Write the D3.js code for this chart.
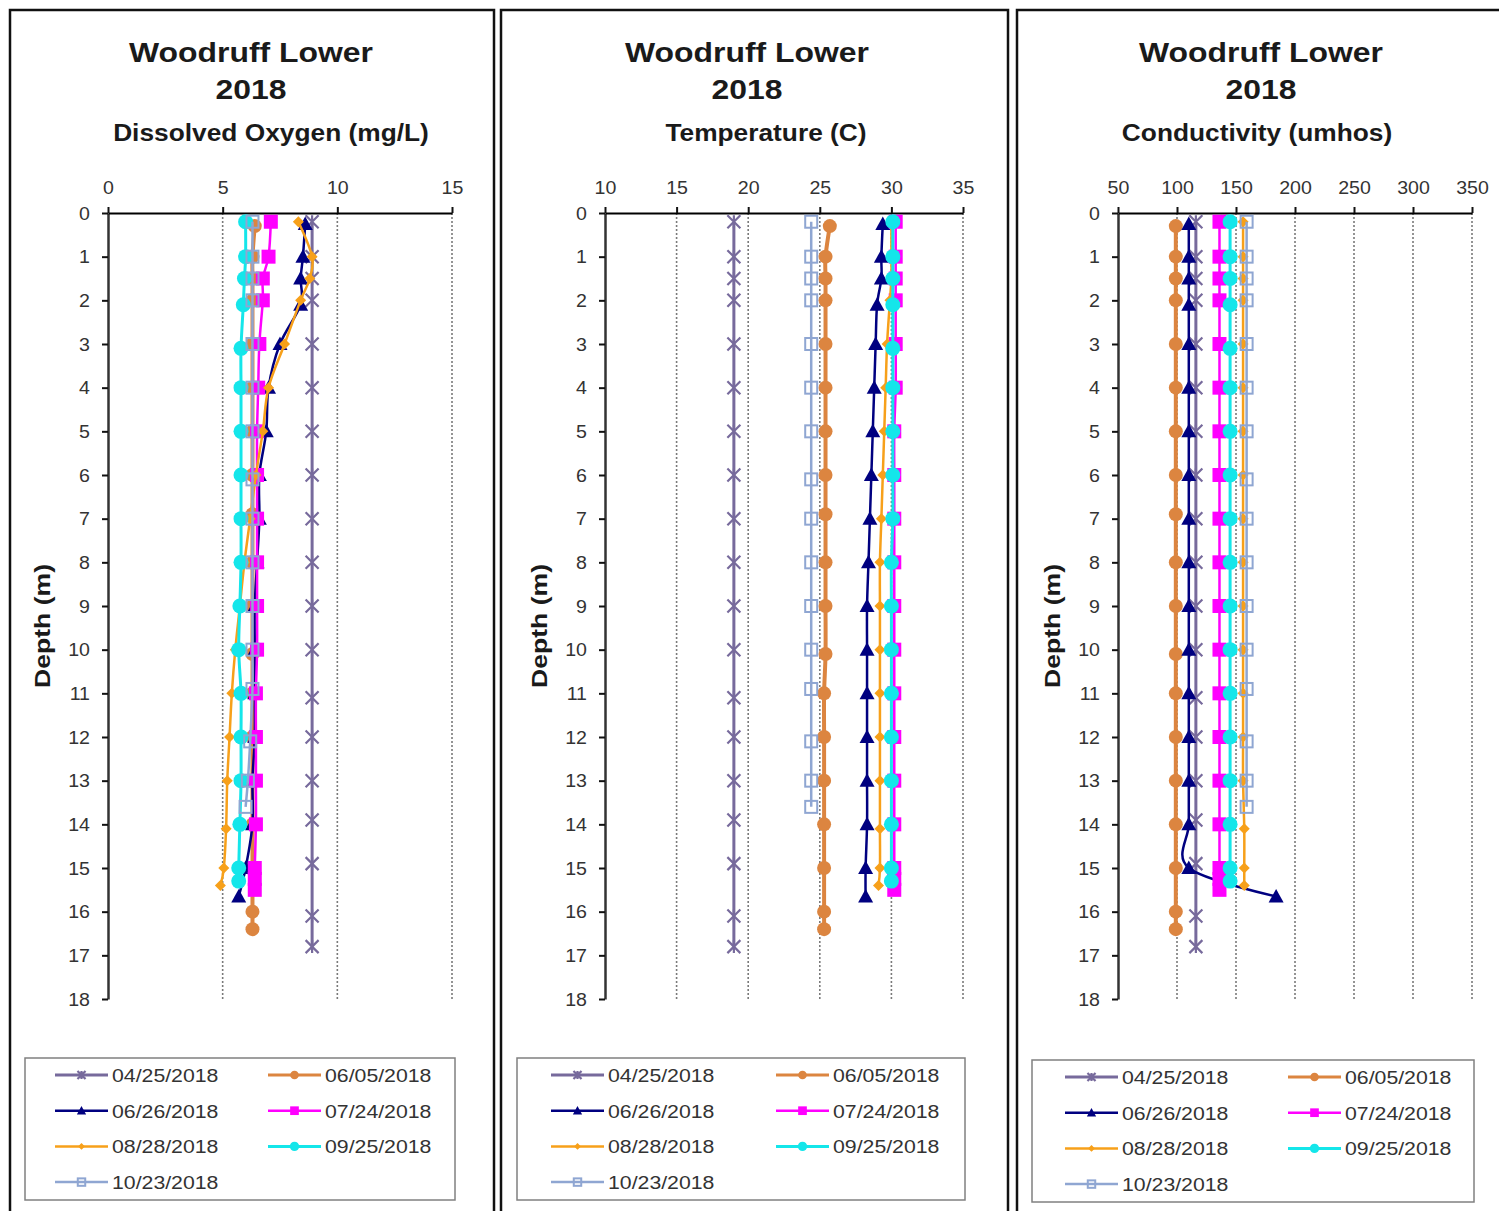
<!DOCTYPE html>
<html>
<head>
<meta charset="utf-8">
<script src="https://cdn.jsdelivr.net/npm/d3@7"></script>
<style>
  body { margin: 0; background: #fff; }
  svg { display: block; }
  text { font-family: "Liberation Sans", Arial, sans-serif; }
</style>
</head>
<body>
<svg id="chart" width="1499" height="1211"></svg>
<script>
// ---- Sampling dates (legend entries) ----
const sampleDates = ["04/25/2018", "06/05/2018", "06/26/2018", "07/24/2018", "08/28/2018", "09/25/2018", "10/23/2018"];

// ---- Tick labels ----
const doTicks = [0, 5, 10, 15];
const tempTicks = [10, 15, 20, 25, 30, 35];
const condTicks = [50, 100, 150, 200, 250, 300, 350];
const depthTicks = [0, 1, 2, 3, 4, 5, 6, 7, 8, 9, 10, 11, 12, 13, 14, 15, 16, 17, 18];

// ---- Profile depths (m) for each sampling date ----
const depth0425 = [0.2, 1, 1.5, 2, 3, 4, 5, 6, 7, 8, 9, 10, 11.1, 12, 13, 13.9, 14.9, 16.1, 16.8];
const depth0605 = [0.3, 1, 1.5, 2, 3, 4, 5, 6, 6.9, 8, 9, 10.1, 11, 12, 13, 14, 15, 16, 16.4];
const depth0626 = [0.25, 1, 1.5, 2.1, 3, 4, 5, 6, 7, 8, 9, 10, 11, 12, 13, 14, 15, 15.65];
const depth0724 = [0.2, 1, 1.5, 2, 3, 4, 5, 6, 7, 8, 9, 10, 11, 12, 13, 14, 15, 15.25, 15.5];
const depth0828 = [0.2, 1, 1.5, 2, 3, 4, 5, 6, 7, 8, 9, 10, 11, 12, 13, 14.1, 15, 15.4];
const depth0925 = [0.2, 1, 1.5, 2.1, 3.1, 4, 5, 6, 7, 8, 9, 10, 11, 12, 13, 14, 15, 15.3];
const depth1023 = [0.2, 1, 1.5, 2, 3, 4, 5, 6.1, 7, 8, 9, 10, 10.9, 12.1, 13, 13.6];

// ---- Dissolved oxygen (mg/L) ----
const do0425 = [8.9, 8.9, 8.9, 8.9, 8.9, 8.9, 8.9, 8.9, 8.9, 8.9, 8.9, 8.9, 8.9, 8.9, 8.9, 8.9, 8.9, 8.9, 8.9];
const do0605 = [6.4, 6.3, 6.3, 6.3, 6.3, 6.3, 6.3, 6.3, 6.3, 6.3, 6.3, 6.3, 6.3, 6.3, 6.3, 6.3, 6.3, 6.3, 6.3];
const do0626 = [8.6, 8.5, 8.4, 8.4, 7.5, 7.0, 6.9, 6.6, 6.6, 6.5, 6.4, 6.4, 6.4, 6.4, 6.3, 6.3, 6.0, 5.7];
const do0724 = [7.1, 7.0, 6.75, 6.75, 6.6, 6.55, 6.5, 6.5, 6.5, 6.5, 6.5, 6.5, 6.45, 6.45, 6.45, 6.45, 6.4, 6.4, 6.4];
const do0828 = [8.3, 8.9, 8.8, 8.4, 7.7, 7.0, 6.75, 6.45, 6.2, 5.95, 5.75, 5.55, 5.4, 5.3, 5.2, 5.15, 5.05, 4.9];
const do0925 = [6.0, 6.0, 5.95, 5.9, 5.8, 5.8, 5.8, 5.8, 5.8, 5.8, 5.75, 5.7, 5.8, 5.8, 5.8, 5.75, 5.7, 5.7];
const do1023 = [6.3, 6.3, 6.3, 6.3, 6.3, 6.3, 6.3, 6.3, 6.3, 6.3, 6.3, 6.3, 6.3, 6.2, 6.1, 6.0];

// ---- Temperature (C) ----
const t0425 = [19.0, 19.0, 19.0, 19.0, 19.0, 19.0, 19.0, 19.0, 19.0, 19.0, 19.0, 19.0, 19.0, 19.0, 19.0, 19.0, 19.0, 19.0, 19.0];
const t0605 = [25.7, 25.4, 25.4, 25.4, 25.4, 25.4, 25.4, 25.4, 25.4, 25.4, 25.4, 25.4, 25.3, 25.3, 25.3, 25.3, 25.3, 25.3, 25.3];
const t0626 = [29.4, 29.3, 29.3, 29.0, 28.9, 28.8, 28.7, 28.6, 28.5, 28.4, 28.3, 28.3, 28.3, 28.3, 28.3, 28.3, 28.2, 28.2];
const t0724 = [30.3, 30.3, 30.3, 30.3, 30.3, 30.3, 30.2, 30.2, 30.2, 30.2, 30.2, 30.2, 30.2, 30.2, 30.2, 30.2, 30.2, 30.2, 30.2];
const t0828 = [30.0, 30.0, 30.0, 29.9, 29.7, 29.6, 29.5, 29.4, 29.3, 29.2, 29.2, 29.2, 29.2, 29.2, 29.2, 29.2, 29.2, 29.1];
const t0925 = [30.1, 30.1, 30.1, 30.1, 30.1, 30.1, 30.1, 30.1, 30.1, 30.0, 30.0, 30.0, 30.0, 30.0, 30.0, 30.0, 30.0, 30.0];
const t1023 = [24.4, 24.4, 24.4, 24.4, 24.4, 24.4, 24.4, 24.4, 24.4, 24.4, 24.4, 24.4, 24.4, 24.4, 24.4, 24.4];

// ---- Conductivity (umhos) ----
const c0425 = [116, 116, 116, 116, 116, 116, 116, 116, 116, 116, 116, 116, 116, 116, 116, 116, 116, 116, 116];
const c0605 = [99, 99, 99, 99, 99, 99, 99, 99, 99, 99, 99, 99, 99, 99, 99, 99, 99, 99, 99];
const c0626 = [110, 110, 110, 110, 110, 110, 110, 110, 110, 110, 110, 110, 110, 110, 110, 110, 110, 184];
const c0724 = [136, 136, 136, 136, 136, 136, 136, 136, 136, 136, 136, 136, 136, 136, 136, 136, 136, 136, 136];
const c0828 = [156, 156, 156, 156, 156, 156, 156, 156, 156, 156, 156, 156, 156, 156, 156, 157, 157, 157];
const c0925 = [145, 145, 145, 145, 145, 145, 145, 145, 145, 145, 145, 145, 145, 145, 145, 145, 145, 145];
const c1023 = [159, 159, 159, 159, 159, 159, 159, 159, 159, 159, 159, 159, 159, 159, 159, 159];

const depthsBySeries = [depth0425, depth0605, depth0626, depth0724, depth0828, depth0925, depth1023];

// ---- Line / marker styles per sampling date ----
const styles = [
  { color: "#776a9c", lw: 3,   marker: "star",       size: 6.5 },
  { color: "#dc8540", lw: 4,   marker: "circle",     size: 7 },
  { color: "#000080", lw: 2.5, marker: "triangle",   size: 7.5 },
  { color: "#ff00ff", lw: 2.5, marker: "square",     size: 7 },
  { color: "#f7a01a", lw: 2.5, marker: "diamond",    size: 5.5 },
  { color: "#14e6ea", lw: 3,   marker: "circle",     size: 7.5 },
  { color: "#8fa6d2", lw: 2.5, marker: "opensquare", size: 6 }
];

// ---- Panel layout ----
const panels = [
  { left: 10, right: 494, x0: 108, x1: 452, domain: [0, 15], ticks: doTicks,
    subtitle: "Dissolved Oxygen (mg/L)", titleX: 251, subX: 271,
    values: [do0425, do0605, do0626, do0724, do0828, do0925, do1023],
    legend: { x: 25, y: 1058, w: 430, h: 142, c1: 55, c2: 268 } },
  { left: 501, right: 1008, x0: 605, x1: 963, domain: [10, 35], ticks: tempTicks,
    subtitle: "Temperature (C)", titleX: 747, subX: 766,
    values: [t0425, t0605, t0626, t0724, t0828, t0925, t1023],
    legend: { x: 517, y: 1058, w: 448, h: 142, c1: 551, c2: 776 } },
  { left: 1017, right: 1530, x0: 1118, x1: 1472, domain: [50, 350], ticks: condTicks,
    subtitle: "Conductivity (umhos)", titleX: 1261, subX: 1257,
    values: [c0425, c0605, c0626, c0724, c0828, c0925, c1023],
    legend: { x: 1032, y: 1060, w: 442, h: 142, c1: 1065, c2: 1288 } }
];

const Y0 = 213, Y1 = 999;
const SX = 1.12; // horizontal text stretch
const svg = d3.select("#chart");

function label(g, x, y, str, size, weight, anchor, fill) {
  return g.append("text")
    .attr("transform", `translate(${x},${y}) scale(${SX},1)`)
    .attr("text-anchor", anchor)
    .style("font-size", size + "px")
    .style("font-weight", weight)
    .attr("fill", fill || "#1a1a1a")
    .text(str);
}

function drawMarker(g, type, s, color) {
  if (type === "circle") {
    g.append("circle").attr("r", s).attr("fill", color);
  } else if (type === "square") {
    g.append("rect").attr("x", -s).attr("y", -s).attr("width", 2 * s).attr("height", 2 * s).attr("fill", color);
  } else if (type === "opensquare") {
    g.append("rect").attr("x", -s).attr("y", -s).attr("width", 2 * s).attr("height", 2 * s)
      .attr("fill", "none").attr("stroke", color).attr("stroke-width", 2);
  } else if (type === "triangle") {
    g.append("path").attr("d", `M0,${-s} L${s},${s * 0.8} L${-s},${s * 0.8} Z`).attr("fill", color);
  } else if (type === "diamond") {
    g.append("path").attr("d", `M0,${-s} L${s},0 L0,${s} L${-s},0 Z`).attr("fill", color);
  } else if (type === "star") {
    g.append("path").attr("d", `M${-s},${-s} L${s},${s} M${-s},${s} L${s},${-s} M0,${-s} L0,${s}`)
      .attr("stroke", color).attr("stroke-width", 2.2).attr("fill", "none");
  }
}

const y = d3.scaleLinear().domain([0, 18]).range([Y0, Y1]);

panels.forEach(p => {
  const g = svg.append("g");

  // panel frame
  g.append("rect").attr("x", p.left).attr("y", 10)
    .attr("width", p.right - p.left).attr("height", 1230)
    .attr("fill", "#fff").attr("stroke", "#111").attr("stroke-width", 2.5);

  // titles
  label(g, p.titleX, 62, "Woodruff Lower", 28.5, "bold", "middle");
  label(g, p.titleX, 99, "2018", 28.5, "bold", "middle");
  label(g, p.subX, 141, p.subtitle, 23.5, "bold", "middle");

  const x = d3.scaleLinear().domain(p.domain).range([p.x0, p.x1]);

  // dotted gridlines
  g.append("g").selectAll("line")
    .data(p.ticks.slice(1))
    .join("line")
    .attr("x1", d => x(d)).attr("x2", d => x(d))
    .attr("y1", Y0).attr("y2", Y1)
    .attr("stroke", "#7a7a7a").attr("stroke-width", 1.6)
    .attr("stroke-dasharray", "2,2");

  // depth axis
  const ay = g.append("g").attr("transform", `translate(${p.x0},0)`)
    .call(d3.axisLeft(y).tickValues(depthTicks).tickFormat(d3.format("d")).tickSize(6).tickSizeOuter(0).tickPadding(12));
  ay.select(".domain").attr("stroke", "#333").attr("stroke-width", 2.5);
  ay.selectAll(".tick line").attr("stroke", "#111").attr("stroke-width", 2);
  ay.selectAll(".tick text")
    .attr("x", -18 / SX).attr("dy", "0.36em")
    .attr("transform", `scale(${SX},1)`)
    .style("font-size", "17.5px").attr("fill", "#333");

  // value axis across the top
  const ax = g.append("g").attr("transform", `translate(0,${Y0})`)
    .call(d3.axisTop(x).tickValues(p.ticks).tickSize(6).tickSizeOuter(0).tickPadding(13));
  ax.select(".domain").attr("stroke", "#000").attr("stroke-width", 2.2);
  ax.selectAll(".tick line").attr("stroke", "#111").attr("stroke-width", 2);
  ax.selectAll(".tick text")
    .attr("transform", `scale(${SX},1)`)
    .style("font-size", "17.5px").attr("fill", "#333");

  // "Depth (m)"
  g.append("text")
    .attr("transform", `translate(${p.x0 - 58},626) rotate(-90)`)
    .attr("text-anchor", "middle")
    .attr("textLength", 124).attr("lengthAdjust", "spacingAndGlyphs")
    .style("font-size", "22px").style("font-weight", "bold")
    .attr("fill", "#1a1a1a")
    .text("Depth (m)");

  // series: line then markers, in date order
  const line = d3.line().curve(d3.curveCatmullRom.alpha(0));
  sampleDates.forEach((date, i) => {
    const st = styles[i];
    const ds = depthsBySeries[i];
    const pts = p.values[i].map((v, k) => [x(v), y(ds[k])]);
    const sg = g.append("g");
    sg.append("path").attr("d", line(pts))
      .attr("fill", "none").attr("stroke", st.color).attr("stroke-width", st.lw)
      .attr("stroke-linejoin", "round");
    pts.forEach(pt => {
      const m = sg.append("g").attr("transform", `translate(${pt[0]},${pt[1]})`);
      drawMarker(m, st.marker, st.size, st.color);
    });
  });

  // legend
  const L = p.legend;
  const lg = g.append("g");
  lg.append("rect").attr("x", L.x).attr("y", L.y).attr("width", L.w).attr("height", L.h)
    .attr("fill", "#fff").attr("stroke", "#808080").attr("stroke-width", 1.5);
  sampleDates.forEach((date, i) => {
    const st = styles[i];
    const row = Math.floor(i / 2), col = i % 2;
    const lx = col === 0 ? L.c1 : L.c2;
    const ly = L.y + 17 + row * 35.7;
    lg.append("line").attr("x1", lx).attr("x2", lx + 53).attr("y1", ly).attr("y2", ly)
      .attr("stroke", st.color).attr("stroke-width", Math.min(st.lw, 3));
    const m = lg.append("g").attr("transform", `translate(${lx + 26.5},${ly})`);
    drawMarker(m, st.marker, st.size * 0.62, st.color);
    label(lg, lx + 57, ly + 7, date, 19, "normal", "start", "#333");
  });
});
</script>
</body>
</html>
